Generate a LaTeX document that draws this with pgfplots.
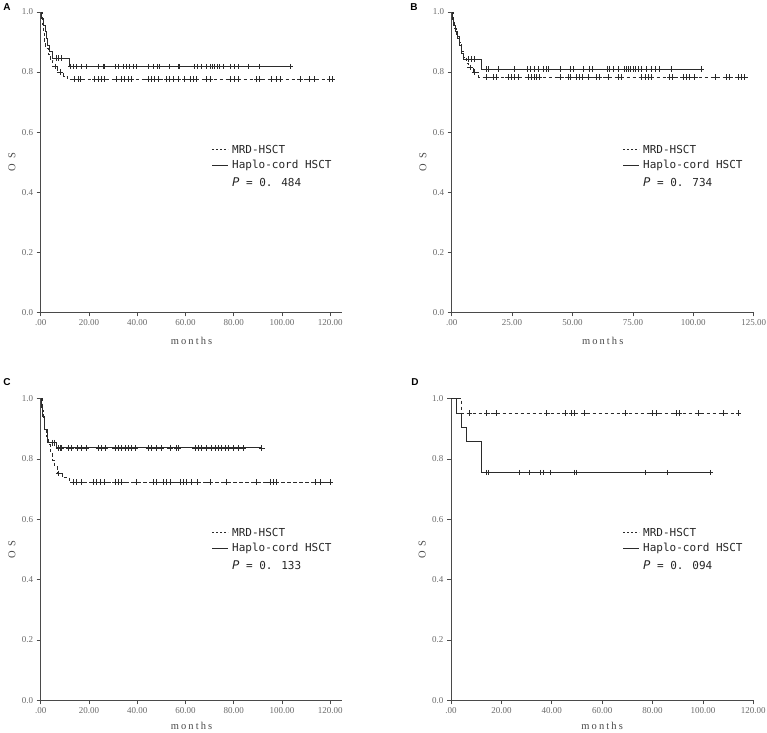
\documentclass[border=0pt]{standalone}
\usepackage{pgfplots}
\pgfplotsset{compat=1.18}
\usepackage{fontspec}
\setmainfont{Liberation Serif}
\newfontfamily\legfont{DejaVu Sans Mono}
\newfontfamily\pfont{DejaVu Sans}
\newfontfamily\panelfont{Liberation Sans}
\newfontfamily\labfont[LetterSpace=20]{Liberation Serif}
\newfontfamily\oslabfont[LetterSpace=45]{Liberation Serif}
\definecolor{axgray}{HTML}{4A4A4A}
\definecolor{tickgray}{HTML}{6A6A6A}
\definecolor{curve}{HTML}{2B2B2B}

\pgfplotsset{
  km/.style={
    scale only axis,
    anchor=south west,
    axis x line*=bottom, axis y line*=left,
    axis line style={axgray, line width=0.9pt, -},
    tick style={axgray, line width=0.8pt},
    tick align=outside,
    major tick length=4pt,
    ymin=0, ymax=1,
    ytick={0,0.2,0.4,0.6,0.8,1.0},
    yticklabels={0.0,0.2,0.4,0.6,0.8,1.0},
    ticklabel style={font=\fontsize{9}{9.5}\selectfont, text=tickgray},
    xlabel={\labfont months},
    ylabel={\oslabfont OS},
    xlabel style={font=\fontsize{10.5}{11}\selectfont, text=tickgray!70!black, at={(axis description cs:0.5,-0.0956)}, anchor=center},
    ylabel style={font=\fontsize{10.5}{11}\selectfont, text=tickgray!70!black, at={(axis description cs:-0.095,0.5)}, anchor=center},
    clip=false,
  },
  lowrow/.style={xlabel style={at={(axis description cs:0.5,-0.084)}}},
  surv/.style={const plot, color=curve, line width=0.8pt, mark=none},
  dsurv/.style={surv, dash pattern=on 3.5pt off 2.5pt},
  cens/.style={only marks, mark=+, mark size=2.8pt, color=curve, mark options={line width=0.6pt, solid}},
}

\newcommand\kmlegend[3]{%
  \begin{scope}[shift={(#1,#2)}]
    \draw[curve, line width=0.7pt, dash pattern=on 1.8pt off 2.2pt] (-20pt,0pt) -- (-4pt,0pt);
    \draw[curve, line width=0.7pt] (-20pt,-16.5pt) -- (-4pt,-16.5pt);
    \node[anchor=west, inner sep=0pt, font=\legfont\fontsize{11}{12}\selectfont, text=black!85] at (0pt,0pt) {MRD-HSCT};
    \node[anchor=west, inner sep=0pt, font=\legfont\fontsize{11}{12}\selectfont, text=black!85] at (0pt,-16.5pt) {Haplo-cord HSCT};
    \node[anchor=west, inner sep=0pt, font=\legfont\fontsize{11}{12}\selectfont, text=black!85] at (0pt,-33pt) {{\pfont\itshape\fontsize{12}{12}\selectfont P} = #3};
  \end{scope}}

\begin{document}
\begin{tikzpicture}
\useasboundingbox (0pt,0pt) rectangle (767pt,-732pt);

% ---------------- Panel A ----------------
\begin{axis}[km, at={(40.7pt,-312.3pt)}, width=301.6pt, height=300.3pt,
  xmin=0, xmax=125, xtick={0,20,40,60,80,100,120},
  xticklabels={.00,20.00,40.00,60.00,80.00,100.00,120.00}]
\addplot[dsurv] coordinates {(0,1) (0.5,0.96) (1,0.93) (1.5,0.90) (2,0.88) (3,0.86) (4,0.84) (5,0.818) (7,0.80) (9.5,0.787) (11,0.777) (120.9,0.777)};
\addplot[surv] coordinates {(0,1) (0.4,0.98) (1,0.957) (1.9,0.935) (2.4,0.912) (2.8,0.89) (3.7,0.868) (5,0.846) (12,0.818) (103.5,0.818)};
\addplot[cens] table[row sep=\\] {x y\\ 6 0.818\\ 8 0.80\\ 14.1 0.777\\ 15.5 0.777\\ 16.6 0.777\\ 22.4 0.777\\ 23.8 0.777\\ 25.2 0.777\\ 26.5 0.777\\ 31.4 0.777\\ 33.4 0.777\\ 34.8 0.777\\ 36.2 0.777\\ 37.6 0.777\\ 44.5 0.777\\ 45.9 0.777\\ 47 0.777\\ 48.6 0.777\\ 52.1 0.777\\ 53.5 0.777\\ 54.9 0.777\\ 56.9 0.777\\ 59.7 0.777\\ 61.8 0.777\\ 63.2 0.777\\ 64.5 0.777\\ 68.7 0.777\\ 70.1 0.777\\ 78.4 0.777\\ 80.4 0.777\\ 81.8 0.777\\ 89.4 0.777\\ 90.8 0.777\\ 95.6 0.777\\ 97.7 0.777\\ 99.1 0.777\\ 107.4 0.777\\ 111.5 0.777\\ 113.6 0.777\\ 119.8 0.777\\ 120.9 0.777\\};
\addplot[cens] table[row sep=\\] {x y\\ 6.5 0.846\\ 7.5 0.846\\ 8.5 0.846\\ 12.4 0.818\\ 13.4 0.818\\ 14.8 0.818\\ 16.9 0.818\\ 18.9 0.818\\ 23.8 0.818\\ 25.8 0.818\\ 26.5 0.818\\ 31 0.818\\ 32.3 0.818\\ 34.1 0.818\\ 35.5 0.818\\ 36.9 0.818\\ 38.3 0.818\\ 39.7 0.818\\ 44.5 0.818\\ 46.6 0.818\\ 48.4 0.818\\ 49.3 0.818\\ 53.5 0.818\\ 56.9 0.818\\ 57.6 0.818\\ 63.8 0.818\\ 65 0.818\\ 66.6 0.818\\ 68.7 0.818\\ 70.1 0.818\\ 71 0.818\\ 72.1 0.818\\ 73.2 0.818\\ 74.2 0.818\\ 75.6 0.818\\ 78.4 0.818\\ 80.4 0.818\\ 81.8 0.818\\ 86 0.818\\ 90.8 0.818\\ 103.5 0.818\\};
\end{axis}

% ---------------- Panel B ----------------
\begin{axis}[km, at={(451.7pt,-312.3pt)}, width=302pt, height=300.3pt,
  xmin=0, xmax=125, xtick={0,25,50,75,100,125},
  xticklabels={.00,25.00,50.00,75.00,100.00,125.00}]
\addplot[dsurv] coordinates {(0,1) (0.5,0.97) (1,0.945) (2,0.92) (3,0.90) (4,0.87) (5,0.85) (6,0.83) (7,0.815) (9,0.80) (11,0.783) (121.5,0.783)};
\addplot[surv] coordinates {(0,1) (0.3,0.975) (0.8,0.957) (1.5,0.935) (2.3,0.912) (3,0.89) (4,0.862) (5,0.843) (12.3,0.81) (103.3,0.81)};
\addplot[cens] table[row sep=\\] {x y\\ 7.5 0.815\\ 9.5 0.80\\ 14.3 0.783\\ 17.1 0.783\\ 18.5 0.783\\ 23.3 0.783\\ 24.7 0.783\\ 25.8 0.783\\ 27.4 0.783\\ 31.6 0.783\\ 33 0.783\\ 34.1 0.783\\ 35 0.783\\ 36.4 0.783\\ 45.1 0.783\\ 48.1 0.783\\ 49.2 0.783\\ 51.6 0.783\\ 53 0.783\\ 54.1 0.783\\ 56.4 0.783\\ 59.9 0.783\\ 61.2 0.783\\ 64.7 0.783\\ 68.8 0.783\\ 70 0.783\\ 78.5 0.783\\ 80.1 0.783\\ 81.2 0.783\\ 82.6 0.783\\ 90.2 0.783\\ 91.2 0.783\\ 95.7 0.783\\ 97.1 0.783\\ 98.5 0.783\\ 100.6 0.783\\ 109.1 0.783\\ 113.7 0.783\\ 115.1 0.783\\ 118.5 0.783\\ 119.9 0.783\\ 121.3 0.783\\};
\addplot[cens] table[row sep=\\] {x y\\ 7 0.843\\ 8.1 0.843\\ 9.2 0.843\\ 14.3 0.81\\ 15.3 0.81\\ 19.2 0.81\\ 26.1 0.81\\ 31.3 0.81\\ 32.7 0.81\\ 34.1 0.81\\ 35.7 0.81\\ 37.8 0.81\\ 39.2 0.81\\ 39.9 0.81\\ 45.1 0.81\\ 49.2 0.81\\ 50.2 0.81\\ 54.3 0.81\\ 57.1 0.81\\ 58.1 0.81\\ 64.4 0.81\\ 65.4 0.81\\ 66.8 0.81\\ 69.1 0.81\\ 71.3 0.81\\ 72.3 0.81\\ 73 0.81\\ 74.1 0.81\\ 75 0.81\\ 76 0.81\\ 77.4 0.81\\ 78.5 0.81\\ 80.6 0.81\\ 82.6 0.81\\ 84.3 0.81\\ 86.1 0.81\\ 90.9 0.81\\ 103.3 0.81\\};
\end{axis}

% ---------------- Panel C ----------------
\begin{axis}[km, lowrow, at={(40.7pt,-700.3pt)}, width=301.6pt, height=301.6pt,
  xmin=0, xmax=125, xtick={0,20,40,60,80,100,120},
  xticklabels={.00,20.00,40.00,60.00,80.00,100.00,120.00}]
\addplot[dsurv] coordinates {(0,1) (0.5,0.96) (1,0.93) (1.5,0.90) (2.2,0.874) (3.2,0.85) (4,0.824) (4.8,0.796) (5.8,0.775) (6.8,0.752) (9,0.739) (12,0.723) (120,0.723)};
\addplot[surv] coordinates {(0,1) (0.4,0.97) (0.8,0.94) (1.7,0.899) (2.8,0.854) (6.5,0.837) (91.6,0.837)};
\addplot[cens] table[row sep=\\] {x y\\ 7.5 0.752\\ 13.5 0.723\\ 14.9 0.723\\ 17 0.723\\ 21.8 0.723\\ 23.2 0.723\\ 24.6 0.723\\ 26.2 0.723\\ 30.8 0.723\\ 32.2 0.723\\ 33.6 0.723\\ 39.8 0.723\\ 46.7 0.723\\ 48.1 0.723\\ 50.8 0.723\\ 52.2 0.723\\ 53.6 0.723\\ 57.7 0.723\\ 59.1 0.723\\ 60.5 0.723\\ 62.6 0.723\\ 64.7 0.723\\ 70.2 0.723\\ 77.1 0.723\\ 89.5 0.723\\ 95.1 0.723\\ 96.4 0.723\\ 97.8 0.723\\ 113.7 0.723\\ 115.8 0.723\\ 119.9 0.723\\};
\addplot[cens] table[row sep=\\] {x y\\ 5 0.854\\ 5.8 0.854\\ 7.3 0.837\\ 8 0.837\\ 8.7 0.837\\ 11.5 0.837\\ 12.8 0.837\\ 15.2 0.837\\ 17 0.837\\ 18.8 0.837\\ 23.9 0.837\\ 25.3 0.837\\ 26.7 0.837\\ 30.8 0.837\\ 32.2 0.837\\ 33.6 0.837\\ 34.9 0.837\\ 36.3 0.837\\ 37.7 0.837\\ 39.1 0.837\\ 44.6 0.837\\ 46 0.837\\ 48.1 0.837\\ 50.1 0.837\\ 53.6 0.837\\ 56.4 0.837\\ 57.1 0.837\\ 64 0.837\\ 65.3 0.837\\ 66.7 0.837\\ 68.8 0.837\\ 70.9 0.837\\ 72.3 0.837\\ 73.6 0.837\\ 75 0.837\\ 76.4 0.837\\ 77.8 0.837\\ 79.9 0.837\\ 81.9 0.837\\ 84 0.837\\ 91.6 0.837\\};
\end{axis}

% ---------------- Panel D ----------------
\begin{axis}[km, lowrow, at={(451pt,-700.3pt)}, width=302.3pt, height=301.6pt,
  xmin=0, xmax=120, xtick={0,20,40,60,80,100,120},
  xticklabels={.00,20.00,40.00,60.00,80.00,100.00,120.00}]
\addplot[dsurv] coordinates {(0,1) (4,0.952) (114.1,0.952)};
\addplot[surv] coordinates {(0,1) (2.3,0.952) (4.2,0.905) (6.2,0.857) (12.2,0.755) (102.8,0.755)};
\addplot[cens] table[row sep=\\] {x y\\ 7.3 0.952\\ 14.2 0.952\\ 17.9 0.952\\ 38 0.952\\ 45.3 0.952\\ 47.9 0.952\\ 48.8 0.952\\ 52.8 0.952\\ 69.1 0.952\\ 80.1 0.952\\ 81.4 0.952\\ 89.6 0.952\\ 90.6 0.952\\ 98.2 0.952\\ 108.1 0.952\\ 114.1 0.952\\};
\addplot[cens] table[row sep=\\] {x y\\ 13.9 0.755\\ 14.8 0.755\\ 27.1 0.755\\ 31.1 0.755\\ 35.3 0.755\\ 36.7 0.755\\ 39.6 0.755\\ 48.8 0.755\\ 49.9 0.755\\ 77 0.755\\ 85.9 0.755\\ 102.8 0.755\\};
\end{axis}

% legends
\kmlegend{232pt}{-149pt}{0. 484}
\kmlegend{643pt}{-149pt}{0. 734}
\kmlegend{232pt}{-532pt}{0. 133}
\kmlegend{643pt}{-532pt}{0. 094}

% panel letters
\node[font=\panelfont\bfseries\fontsize{10}{10}\selectfont] at (7pt,-7pt) {A};
\node[font=\panelfont\bfseries\fontsize{10}{10}\selectfont] at (414pt,-7pt) {B};
\node[font=\panelfont\bfseries\fontsize{10}{10}\selectfont] at (7pt,-382pt) {C};
\node[font=\panelfont\bfseries\fontsize{10}{10}\selectfont] at (415pt,-382pt) {D};
\end{tikzpicture}
\end{document}
